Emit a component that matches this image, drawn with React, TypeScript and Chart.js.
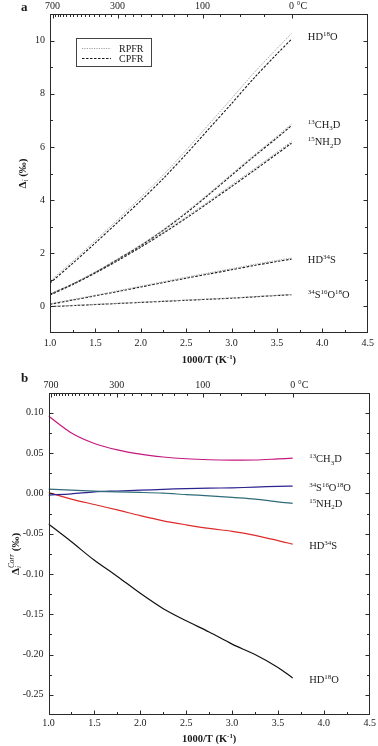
import React, { useEffect, useRef } from 'react';
import { Chart, registerables } from 'chart.js';

Chart.register(...registerables);

const SERIF = '"Liberation Serif", "Times New Roman", Times, serif';

// ---------- shared axis data ----------
const INV_T = [1.0, 1.25, 1.5, 1.75, 2.0, 2.25, 2.5, 2.75, 3.0, 3.25, 3.5, 3.66]; // 1000/T (K^-1)
const X_TICKS = [1.0, 1.5, 2.0, 2.5, 3.0, 3.5, 4.0, 4.5];
const TOP_TEMPS_LABELED = [700, 300, 100, 0]; // °C
const TOP_TEMP_MINOR_STEP = 25; // °C

// ---------- panel a : Δi (‰) ----------
const A_Y_TICKS = [0, 2, 4, 6, 8, 10];
const HD18O_RPFR = [0.95, 1.7, 2.48, 3.28, 4.1, 4.95, 5.88, 6.85, 7.82, 8.8, 9.7, 10.27];
const HD18O_CPFR = [0.88, 1.62, 2.39, 3.18, 3.98, 4.82, 5.73, 6.68, 7.63, 8.6, 9.5, 10.05];
const CH3D13_RPFR = [0.47, 0.85, 1.3, 1.8, 2.32, 2.9, 3.55, 4.25, 4.98, 5.7, 6.4, 6.86];
const CH3D13_CPFR = [0.46, 0.84, 1.28, 1.78, 2.29, 2.87, 3.51, 4.21, 4.93, 5.65, 6.34, 6.8];
const NH2D15_RPFR = [0.44, 0.84, 1.28, 1.76, 2.26, 2.8, 3.37, 3.96, 4.57, 5.18, 5.8, 6.2];
const NH2D15_CPFR = [0.43, 0.82, 1.26, 1.73, 2.23, 2.76, 3.32, 3.91, 4.51, 5.12, 5.74, 6.14];
const HD34S_RPFR = [0.1, 0.26, 0.42, 0.59, 0.76, 0.93, 1.1, 1.26, 1.42, 1.58, 1.73, 1.82];
const HD34S_CPFR = [0.08, 0.24, 0.4, 0.56, 0.73, 0.9, 1.06, 1.22, 1.38, 1.54, 1.69, 1.78];
const SO2_RPFR = [0.0, 0.04, 0.08, 0.12, 0.16, 0.2, 0.24, 0.28, 0.32, 0.37, 0.42, 0.45];
const SO2_CPFR = [-0.01, 0.03, 0.07, 0.11, 0.15, 0.19, 0.23, 0.27, 0.31, 0.36, 0.41, 0.44];
const LEGEND_NAMES = ['RPFR', 'CPFR'];

// ---------- panel b : Δi^Corr (‰) ----------
const B_Y_TICKS = [-0.25, -0.2, -0.15, -0.1, -0.05, 0, 0.05, 0.1];
const CH3D13_CORR = [0.096, 0.075, 0.062, 0.054, 0.0487, 0.0452, 0.043, 0.0418, 0.0414, 0.0415, 0.0428, 0.0437];
const SO2_CORR = [-0.002, -0.0005, 0.002, 0.003, 0.004, 0.005, 0.006, 0.0065, 0.007, 0.0078, 0.0088, 0.009];
const NH2D15_CORR = [0.0053, 0.004, 0.0028, 0.0018, 0.0012, 0.0003, -0.0015, -0.003, -0.005, -0.007, -0.0105, -0.0123];
const HD34S_CORR = [0.001, -0.007, -0.0138, -0.0205, -0.0276, -0.034, -0.039, -0.0435, -0.047, -0.052, -0.0585, -0.063];
const HD18O_CORR = [-0.038, -0.06, -0.083, -0.103, -0.124, -0.143, -0.158, -0.172, -0.187, -0.2, -0.216, -0.229];

// ---------- series labels (rich text parts: [text, 0 normal | 1 sup | -1 sub, style, stack]) ----------
type Part = [string, number, string?, boolean?];
const T_HD18O: Part[] = [['HD', 0], ['18', 1], ['O', 0]];
const T_CH3D: Part[] = [['13', 1], ['CH', 0], ['3', -1], ['D', 0]];
const T_NH2D: Part[] = [['15', 1], ['NH', 0], ['2', -1], ['D', 0]];
const T_HD34S: Part[] = [['HD', 0], ['34', 1], ['S', 0]];
const T_SO2: Part[] = [['34', 1], ['S', 0], ['16', 1], ['O', 0], ['18', 1], ['O', 0]];
const LABEL_X = 3.84;
const A_LABEL_Y = [10.16, 6.86, 6.19, 1.76, 0.45];
const B_LABEL_Y = [0.0432, 0.0074, -0.0123, -0.0647, -0.2305];

const X_TITLE: Part[] = [['1000/T (K', 0, 'bold'], ['-1', 1, 'bold'], [')', 0, 'bold']];
const A_Y_TITLE: Part[] = [['Δ', 0, 'bold'], ['i', -1, 'italic'], [' (‰)', 0, 'bold']];
const B_Y_TITLE: Part[] = [['Δ', 0, 'bold'], ['i', -1, 'italic', true], ['Corr', 1, 'italic'], [' (‰)', 0, 'bold']];

// ---------- helpers ----------
function partFont(size: number, p: Part) {
  const s = p[1] === 0 ? size : size * 0.66;
  return `${p[2] || ''} ${s}px ${SERIF}`;
}
function measureParts(ctx: CanvasRenderingContext2D, parts: Part[], size: number) {
  let w = 0;
  for (const p of parts) {
    ctx.font = partFont(size, p);
    if (!p[3]) w += ctx.measureText(p[0]).width;
  }
  return w;
}
function drawParts(ctx: CanvasRenderingContext2D, parts: Part[], x: number, y: number, size: number) {
  ctx.textAlign = 'left';
  ctx.textBaseline = 'alphabetic';
  let cx = x;
  for (const p of parts) {
    ctx.font = partFont(size, p);
    const dy = p[1] === 1 ? -size * 0.38 : p[1] === -1 ? size * 0.24 : 0;
    ctx.fillText(p[0], cx, y + dy);
    if (!p[3]) cx += ctx.measureText(p[0]).width;
  }
}
const pts = (ys: number[]) => INV_T.map((x, i) => ({ x, y: ys[i] }));

type PanelSpec = {
  height: number;
  padTop: number;
  padRight: number;
  xAxisH: number;
  yAxisW: number;
  xPad: number;
  yMin: number;
  yMax: number;
  yTicks: number[];
  yFmt: (v: number) => string;
  yMinorStep: number;
  yMajorEvery: number;
  datasets: any[];
  labels: { parts: Part[]; y: number }[];
  yTitle: Part[];
  yTitleX: number;
  letter: string;
  letterY: number;
  xTitleY: number;
  legend: boolean;
};

function framePlugin(p: PanelSpec) {
  return {
    id: 'frame' + p.letter,
    afterDraw(chart: any) {
      const { ctx, chartArea: ca, scales } = chart;
      const xs = scales.x;
      const ys = scales.y;
      ctx.save();
      ctx.strokeStyle = '#2a2a2a';
      ctx.fillStyle = '#1a1a1a';
      ctx.lineWidth = 1;
      const L = Math.round(ca.left) + 0.5;
      const R = Math.round(ca.right) - 0.5;
      const T = Math.round(ca.top) + 0.5;
      const B = Math.round(ca.bottom) - 0.5;
      ctx.strokeRect(L, T, R - L, B - T);
      const cx = (v: number) => Math.min(R, Math.max(L, Math.round(v) + 0.5));
      const cy = (v: number) => Math.min(B, Math.max(T, Math.round(v) + 0.5));

      const major = 4;
      const minor = 2.5;
      ctx.beginPath();
      // bottom x ticks (inward)
      for (let i = 0; i <= 14; i++) {
        const v = 1 + i * 0.25;
        const px = cx(xs.getPixelForValue(v));
        const len = i % 2 === 0 ? major : minor;
        ctx.moveTo(px, B);
        ctx.lineTo(px, B - len);
      }
      // left/right y ticks
      const n0 = Math.ceil(p.yMin / p.yMinorStep - 1e-9);
      const n1 = Math.floor(p.yMax / p.yMinorStep + 1e-9);
      for (let k = n0; k <= n1; k++) {
        const v = k * p.yMinorStep;
        const py = cy(ys.getPixelForValue(v));
        const len = k % p.yMajorEvery === 0 ? major : minor;
        ctx.moveTo(L, py);
        ctx.lineTo(L + len, py);
        ctx.moveTo(R, py);
        ctx.lineTo(R - len, py);
      }
      // top temperature ticks
      for (let t = 0; t <= 700; t += TOP_TEMP_MINOR_STEP) {
        const v = 1000 / (t + 273.15);
        const px = cx(xs.getPixelForValue(v));
        const len = TOP_TEMPS_LABELED.includes(t) ? major : minor;
        ctx.moveTo(px, T);
        ctx.lineTo(px, T + len);
      }
      ctx.stroke();

      // top temperature labels
      ctx.font = `10px ${SERIF}`;
      ctx.textBaseline = 'alphabetic';
      for (const t of TOP_TEMPS_LABELED) {
        const px = xs.getPixelForValue(1000 / (t + 273.15));
        const s = String(t);
        const w = ctx.measureText(s).width;
        ctx.textAlign = 'left';
        ctx.fillText(t === 0 ? s + ' °C' : s, px - w / 2, ca.top - 5);
      }

      // series labels
      for (const lb of p.labels) {
        const px = xs.getPixelForValue(LABEL_X);
        const py = ys.getPixelForValue(lb.y);
        drawParts(ctx, lb.parts, px, py + 3.6, 10.5);
      }

      // x title
      const xw = measureParts(ctx, X_TITLE, 10.5);
      drawParts(ctx, X_TITLE, (ca.left + ca.right) / 2 - xw / 2, p.xTitleY, 10.5);

      // y title (rotated)
      const yw = measureParts(ctx, p.yTitle, 11);
      ctx.save();
      ctx.translate(p.yTitleX, (ca.top + ca.bottom) / 2);
      ctx.rotate(-Math.PI / 2);
      drawParts(ctx, p.yTitle, -yw / 2, 0, 11);
      ctx.restore();

      // panel letter
      ctx.font = `bold 13px ${SERIF}`;
      ctx.textAlign = 'left';
      ctx.fillText(p.letter, 21, p.letterY);

      // legend box
      if (p.legend) {
        const bx = ca.left + 26;
        const by = ca.top + 24;
        ctx.strokeStyle = '#444';
        ctx.strokeRect(Math.round(bx) + 0.5, Math.round(by) + 0.5, 75, 28);
        const styles = [
          { c: '#a0a0a0', d: [1.2, 1.2], w: 1 },
          { c: '#1a1a1a', d: [2.5, 1.5], w: 1.1 },
        ];
        LEGEND_NAMES.forEach((name, i) => {
          const ly = by + 10.5 + i * 10;
          ctx.strokeStyle = styles[i].c;
          ctx.lineWidth = styles[i].w;
          ctx.setLineDash(styles[i].d);
          ctx.beginPath();
          ctx.moveTo(bx + 6, ly);
          ctx.lineTo(bx + 35, ly);
          ctx.stroke();
          ctx.setLineDash([]);
          ctx.font = `10px ${SERIF}`;
          ctx.fillStyle = '#1a1a1a';
          ctx.fillText(name, bx + 43, ly + 3.5);
        });
      }
      ctx.restore();
    },
  };
}

function makeChart(canvas: HTMLCanvasElement, p: PanelSpec) {
  return new Chart(canvas, {
    type: 'line',
    data: { datasets: p.datasets },
    options: {
      responsive: false,
      animation: false,
      devicePixelRatio: 1,
      layout: { padding: { top: p.padTop, right: p.padRight, left: 0, bottom: 0 } },
      plugins: { legend: { display: false }, tooltip: { enabled: false } },
      elements: { point: { radius: 0 }, line: { tension: 0.3 } },
      scales: {
        x: {
          type: 'linear',
          min: 1,
          max: 4.5,
          afterBuildTicks: (s: any) => {
            s.ticks = X_TICKS.map((v) => ({ value: v }));
          },
          afterFit: (s: any) => {
            s.height = p.xAxisH;
          },
          grid: { display: false, drawTicks: false },
          border: { display: false },
          ticks: {
            callback: (v: any) => Number(v).toFixed(1),
            font: { family: SERIF, size: 10 },
            color: '#1a1a1a',
            padding: p.xPad,
            maxRotation: 0,
            autoSkip: false,
          },
        },
        y: {
          type: 'linear',
          min: p.yMin,
          max: p.yMax,
          afterBuildTicks: (s: any) => {
            s.ticks = p.yTicks.map((v) => ({ value: v }));
          },
          afterFit: (s: any) => {
            s.width = p.yAxisW;
          },
          grid: { display: false, drawTicks: false },
          border: { display: false },
          ticks: {
            callback: (v: any) => p.yFmt(Number(v)),
            font: { family: SERIF, size: 10 },
            color: '#1a1a1a',
            padding: 5,
            autoSkip: false,
          },
        },
      },
    } as any,
    plugins: [framePlugin(p) as any],
  });
}

const rp = (d: number[]) => ({ data: pts(d), borderColor: '#9c9c9c', borderDash: [1.2, 1.2], borderWidth: 1, fill: false });
const cp = (d: number[]) => ({ data: pts(d), borderColor: '#1a1a1a', borderDash: [2.5, 1.5], borderWidth: 1.1, fill: false });
const sl = (d: number[], c: string) => ({ data: pts(d), borderColor: c, borderWidth: 1.2, fill: false });

const PANEL_A: PanelSpec = {
  height: 370,
  padTop: 14,
  padRight: 9,
  xAxisH: 37,
  yAxisW: 50,
  xPad: 4,
  yMin: -1,
  yMax: 11,
  yTicks: A_Y_TICKS,
  yFmt: (v) => String(v),
  yMinorStep: 1,
  yMajorEvery: 2,
  datasets: [
    rp(HD18O_RPFR), cp(HD18O_CPFR),
    rp(CH3D13_RPFR), cp(CH3D13_CPFR),
    rp(NH2D15_RPFR), cp(NH2D15_CPFR),
    rp(HD34S_RPFR), cp(HD34S_CPFR),
    rp(SO2_RPFR), cp(SO2_CPFR),
  ],
  labels: [
    { parts: T_HD18O, y: A_LABEL_Y[0] },
    { parts: T_CH3D, y: A_LABEL_Y[1] },
    { parts: T_NH2D, y: A_LABEL_Y[2] },
    { parts: T_HD34S, y: A_LABEL_Y[3] },
    { parts: T_SO2, y: A_LABEL_Y[4] },
  ],
  yTitle: A_Y_TITLE,
  yTitleX: 25.5,
  letter: 'a',
  letterY: 10.5,
  xTitleY: 363,
  legend: true,
};

const PANEL_B: PanelSpec = {
  height: 376,
  padTop: 22.7,
  padRight: 7.3,
  xAxisH: 31,
  yAxisW: 48.5,
  xPad: 2,
  yMin: -0.275,
  yMax: 0.125,
  yTicks: B_Y_TICKS,
  yFmt: (v) => v.toFixed(2),
  yMinorStep: 0.025,
  yMajorEvery: 2,
  datasets: [
    sl(CH3D13_CORR, '#c4197f'),
    sl(NH2D15_CORR, '#2f6b7a'),
    sl(SO2_CORR, '#2c238e'),
    sl(HD34S_CORR, '#dd2a2a'),
    sl(HD18O_CORR, '#111111'),
  ],
  labels: [
    { parts: T_CH3D, y: B_LABEL_Y[0] },
    { parts: T_SO2, y: B_LABEL_Y[1] },
    { parts: T_NH2D, y: B_LABEL_Y[2] },
    { parts: T_HD34S, y: B_LABEL_Y[3] },
    { parts: T_HD18O, y: B_LABEL_Y[4] },
  ],
  yTitle: B_Y_TITLE,
  yTitleX: 18.5,
  letter: 'b',
  letterY: 12,
  xTitleY: 372,
  legend: false,
};

function Panel({ top, spec }: { top: number; spec: PanelSpec }) {
  const ref = useRef<HTMLCanvasElement>(null);
  useEffect(() => {
    const chart = makeChart(ref.current!, spec);
    return () => chart.destroy();
  }, [spec]);
  return (
    <div style={{ position: 'absolute', left: 0, top, width: 378, height: spec.height }}>
      <canvas ref={ref} width={378} height={spec.height} style={{ width: 378, height: spec.height, display: 'block' }} />
    </div>
  );
}

export default function App() {
  return (
    <div style={{ position: 'fixed', left: 0, top: 0, width: 378, height: 746, background: '#fff', overflow: 'hidden' }}>
      <Panel top={0} spec={PANEL_A} />
      <Panel top={370} spec={PANEL_B} />
    </div>
  );
}
